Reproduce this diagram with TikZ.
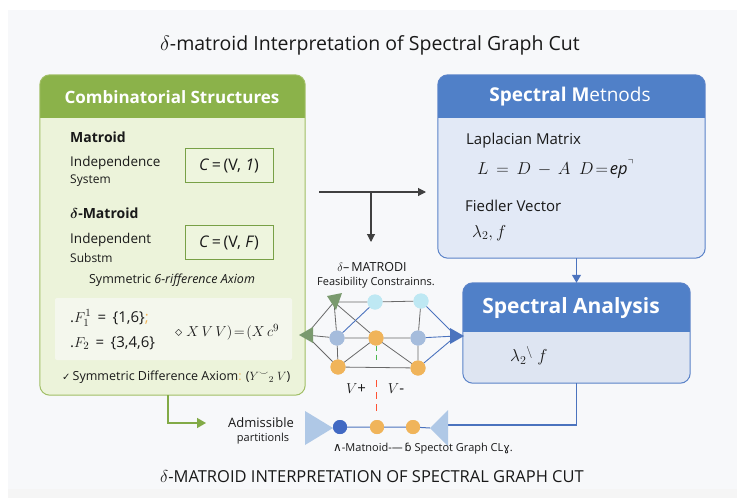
\documentclass[tikz,border=0pt]{standalone}
\usepackage{amsmath,amssymb}
\usepackage{fontspec}
\setmainfont{Open Sans}
\newfontfamily\dejavu{DejaVu Sans}
\usetikzlibrary{arrows.meta,calc,shapes.geometric}
\definecolor{gHead}{RGB}{139,178,74}
\definecolor{gBody}{RGB}{236,243,218}
\definecolor{gBorder}{RGB}{160,190,100}
\definecolor{fBorder}{RGB}{120,160,70}
\definecolor{fFill}{RGB}{238,245,222}
\definecolor{iFill}{RGB}{244,247,237}
\definecolor{bHead}{RGB}{80,128,200}
\definecolor{bBody}{RGB}{226,233,246}
\definecolor{bBorder}{RGB}{90,130,200}
\definecolor{aBody}{RGB}{222,229,242}
\definecolor{panel}{RGB}{247,248,250}
\definecolor{cyanL}{RGB}{190,232,243}
\definecolor{steel}{RGB}{165,188,220}
\definecolor{orng}{RGB}{240,180,90}
\definecolor{triG}{RGB}{122,154,110}
\definecolor{edgeG}{RGB}{105,105,105}
\definecolor{blueE}{RGB}{75,115,190}
\definecolor{dotB}{RGB}{65,105,195}
\definecolor{lightTri}{RGB}{175,200,230}
\definecolor{txt}{RGB}{25,25,25}
\definecolor{arrG}{RGB}{130,170,70}
\newcommand\myfs[1]{\fontsize{#1}{#1}\selectfont}
\tikzset{
  box/.style={rectangle, rounded corners=10pt, inner sep=0pt},
  hdrtxt/.style={text=white, font=\myfs{17}\bfseries},
  lbl/.style={anchor=west, text=txt, inner sep=0pt},
  fbox/.style={rectangle, draw=fBorder, fill=fFill, line width=0.9pt, minimum width=88pt, minimum height=34pt, font=\myfs{16}, text=txt},
  gdot/.style={circle, minimum size=15pt, inner sep=0pt},
  gedge/.style={draw=edgeG, line width=0.8pt},
  bedge/.style={draw=blueE, line width=0.9pt},
  darrow/.style={draw=black!75, line width=1.1pt, -{Triangle[length=8pt,width=8pt]}},
  barrow/.style={draw=blueE, line width=1.1pt, -{Triangle[length=8pt,width=9pt]}},
  garrow/.style={draw=arrG, line width=1.4pt, -{Triangle[length=9pt,width=10pt]}},
}
\begin{document}
\begin{tikzpicture}[x=1pt,y=-1pt]
\useasboundingbox (0,0) rectangle (739,498);
\fill[white] (0,0) rectangle (739,498);
\fill[panel] (8,10) rectangle (737,489);
\fill[black!4] (8,489) rectangle (737,498);

% title
\node[text=txt, font=\myfs{19.5}] (title) at (370,45) {$\delta$-matroid Interpretation of Spectral Graph Cut};

% ---------- green box ----------
\node[box, fill=gBody, minimum width=265pt, minimum height=320pt] (comb) at (172.5,235) {};
\begin{scope}
  \clip[rounded corners=10pt] (comb.north west) rectangle (comb.south east);
  \fill[gHead] (comb.north west) rectangle ([yshift=-43pt]comb.north east);
\end{scope}
\draw[gBorder, line width=1pt, rounded corners=10pt] (comb.north west) rectangle (comb.south east);
\node[hdrtxt] (combh) at (172,97) {Combinatorial Structures};

\node[lbl, font=\myfs{14}\bfseries] (mat) at (70,137) {Matroid};
\node[lbl, font=\myfs{13.5}] (ind1) at (70,163) {Independence};
\node[lbl, font=\myfs{12}] (sys) at (70,181) {System};
\node[fbox] (f1) at (229,165.5) {\textit{C}\,=\,(V, \textit{1})};

\node[lbl, font=\myfs{14}\bfseries] (dmat) at (70,213) {$\boldsymbol{\delta}$-Matroid};
\node[lbl, font=\myfs{13.5}] (ind2) at (70,240) {Independent};
\node[lbl, font=\myfs{12}] (sub) at (70,258) {Substm};
\node[fbox] (f2) at (229,242.5) {\textit{C}\,=\,(V, \textit{F})};

\node[text=txt, font=\myfs{12.5}] (sym) at (172,280) {Symmetric \textit{6-rifference Axiom}};

\node[box, rounded corners=2pt, fill=iFill, minimum width=237pt, minimum height=62pt] (inner) at (173.5,329) {};
\node[lbl, font=\myfs{15}] (F1) at (70,318) {.$F_1^1$ \,=\, \{1,6\}{\color{orng};}};
\node[lbl, font=\myfs{15}] (F2) at (70,343) {.$F_2$ \,=\, \{3,4,6\}};
\node[lbl, font=\myfs{15.5}] (xv) at (175,332) {$\diamond\ X\,V\,V)\!=\!(X\,c^{9}$};

\node[lbl, font=\myfs{12.5}] (sda) at (62,377) {{\dejavu\myfs{10}\color{txt}✓}\,Symmetric Difference Axiom{\color{orng}:} ($Y{}^{\smile}{}_2\ V$)};

% ---------- blue boxes ----------
\node[box, fill=bBody, minimum width=267pt, minimum height=183pt] (meth) at (571.5,166.5) {};
\begin{scope}
  \clip[rounded corners=10pt] (meth.north west) rectangle (meth.south east);
  \fill[bHead] (meth.north west) rectangle ([yshift=-43pt]meth.north east);
\end{scope}
\draw[bBorder, line width=1pt, rounded corners=10pt] (meth.north west) rectangle (meth.south east);
\node[hdrtxt, font=\myfs{19}\bfseries] (methh) at (570,97) {Spectral M\mdseries etnods};

\node[lbl, font=\myfs{15}] (lap) at (466,141) {Laplacian Matrix};
\node[lbl, font=\myfs{16.5}] (lapf) at (477,169) {$L\,=\,D\,-\,A\ \ D\!=\!\mathit{ep}^{\urcorner}$};
\node[lbl, font=\myfs{15}] (fied) at (465,206) {Fiedler Vector};
\node[lbl, font=\myfs{17}] (fiedf) at (472,233) {$\lambda_2, f$};

\node[box, fill=aBody, minimum width=227pt, minimum height=100pt] (ana) at (576.5,333) {};
\begin{scope}
  \clip[rounded corners=10pt] (ana.north west) rectangle (ana.south east);
  \fill[bHead] (ana.north west) rectangle ([yshift=-49pt]ana.north east);
\end{scope}
\draw[bBorder, line width=1pt, rounded corners=10pt] (ana.north west) rectangle (ana.south east);
\node[hdrtxt, font=\myfs{21}\bfseries] (anah) at (571,308) {Spectral Analysis};
\node[lbl, font=\myfs{17}] (anaf) at (510,356) {$\lambda_2{}^{\backslash}\ f$};

% ---------- arrows ----------
\coordinate (tS) at (319,192);
\coordinate (tJ) at (371,192);
\coordinate (tE) at (426,192);
\coordinate (tD) at (371,242);
\draw[darrow] (tS) -- (tE);
\draw[darrow] (tJ) -- (tD);

\draw[barrow] (meth.south -| ana.north) -- (ana.north);

\coordinate (bEnd) at (438,425);
\draw[barrow] (ana.south) |- (bEnd);

\coordinate (gTurn) at (168,423);
\coordinate (gEnd) at (206,423);
\draw[garrow] (gTurn |- comb.south) -- (gTurn) -- (gEnd);

% ---------- graph ----------
\node[text=txt, font=\myfs{12.5}] (gl1) at (372,267) {$\delta$--\,MATRODI};
\node[text=txt, font=\myfs{11}] (gl2) at (376,283) {Feasibility Constrainns.};

\coordinate (gTL) at (334,302);
\coordinate (gML) at (306,335);
\coordinate (gR) at (456,336);
\node[gdot, fill=cyanL] (gTM) at (375,302) {};
\node[gdot, fill=cyanL] (gTR) at (421,301) {};
\node[gdot, fill=steel] (gMLc) at (337,338) {};
\node[gdot, fill=orng] (gMC) at (376,338) {};
\node[gdot, fill=steel] (gMR) at (418,338) {};
\node[gdot, fill=orng] (gBL) at (338,367) {};
\node[gdot, fill=orng] (gBR) at (418,368) {};

\path[gedge] (gTL) -- (gTM) (gTM) -- (gTR) (gTL) -- (gML) (gTL) -- (gMLc)
  (gTL) -- (gMC) (gML) -- (gMLc) (gML) -- (gBL) (gMLc) -- (gMC) (gMC) -- (gMR)
  (gMLc) -- (gBL) (gMC) -- (gBL) (gMC) -- (gBR) (gBL) -- (gBR) (gTR) -- (gMR) (gMR) -- (gBR);
\path[bedge] (gTM) -- (gMLc) (gTR) -- (gR) (gMR) -- (gR) (gBR) -- (gR);
% redraw dots over edges
\foreach \n/\c in {gTM/cyanL, gTR/cyanL, gMLc/steel, gMC/orng, gMR/steel, gBL/orng, gBR/orng}
  \fill[\c] (\n) circle (7.5pt);
\fill[triG] ($(gTL)+(-7,-6)$) -- ($(gTL)+(8,-9)$) -- ($(gTL)+(2,8)$) -- cycle;
\fill[triG] ($(gML)+(-7,0)$) -- ($(gML)+(7,-8)$) -- ($(gML)+(7,8)$) -- cycle;
\fill[blueE] ($(gR)+(8,0)$) -- ($(gR)+(-6,-8)$) -- ($(gR)+(-6,8)$) -- cycle;

% dashed split
\coordinate (dA) at (376,362);
\coordinate (dB) at (376,380);
\coordinate (dC) at (376,414);
\draw[green!60!black!70, line width=1pt, dash pattern=on 5pt off 4pt] (gMC.south) -- (dA);
\draw[red!70!orange!80, line width=1pt, dash pattern=on 7pt off 5pt] (dB) -- (dC);
\node[font=\myfs{15}, text=txt] (vp) at (356,389) {$V$+};
\node[font=\myfs{15}, text=txt] (vm) at (396,389) {$V$-};

% ---------- bottom line ----------
\node[font=\myfs{13}, text=txt] (adm) at (261,423) {Admissible};
\node[font=\myfs{11}, text=txt] (part) at (263,439) {partitionls};
\coordinate (lTip) at (333,428);
\coordinate (rTip) at (430,428);
\fill[lightTri] (305,411) -- (lTip) -- (305,445) -- cycle;
\node[gdot, minimum size=14pt, fill=dotB] (b1) at (340,427) {};
\node[gdot, minimum size=14pt, fill=orng] (b2) at (377,427) {};
\node[gdot, minimum size=14pt, fill=orng] (b3) at (413,427) {};
\draw[blueE, line width=1pt] (lTip) -- (b1) -- (b2) -- (b3) -- (rTip);
\foreach \n/\c in {b1/dotB, b2/orng, b3/orng}
  \fill[\c] (\n) circle (7pt);
\fill[lightTri] (448,410) -- (rTip) -- (448,446) -- cycle;
\node[font=\myfs{11}, text=txt] (cap) at (423,449) {{\dejavu\myfs{12}∧}-Matnoid-{\dejavu—\,ɓ} Spectot Graph CL{\dejavu ɣ}.};

\node[text=txt, font=\myfs{16.5}] (btitle) at (372,477) {$\delta$-MATROID INTERPRETATION OF SPECTRAL GRAPH CUT};
\end{tikzpicture}
\end{document}
